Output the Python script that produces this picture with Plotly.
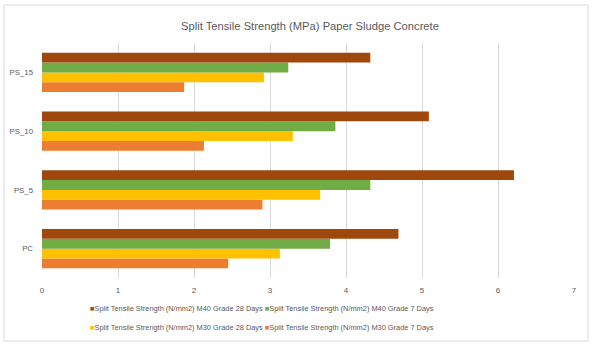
import plotly.graph_objects as go

categories = ["PC", "PS_5", "PS_10", "PS_15"]
m30_7 = [2.45, 2.90, 2.13, 1.87]
m30_28 = [3.13, 3.66, 3.30, 2.92]
m40_7 = [3.79, 4.32, 3.86, 3.24]
m40_28 = [4.69, 6.21, 5.09, 4.32]

series = [
    ("Split Tensile Strength (N/mm2) M30 Grade 7 Days", m30_7, "#ED7D31"),
    ("Split Tensile Strength (N/mm2) M30 Grade 28 Days", m30_28, "#FFC000"),
    ("Split Tensile Strength (N/mm2) M40 Grade 7 Days", m40_7, "#70AD47"),
    ("Split Tensile Strength (N/mm2) M40 Grade 28 Days", m40_28, "#9E480E"),
]

fig = go.Figure()
for name, vals, color in series:
    fig.add_trace(go.Bar(y=categories, x=vals, name=name, orientation="h",
                         showlegend=False,
                         marker=dict(color=color, line=dict(width=0))))

W, H = 596, 351
ml, mr, mt, mb = 42, 22, 43, 73
pw, ph = W - ml - mr, H - mt - mb

def px(x):
    return (x - ml) / pw

def py(y):
    return (H - mb - y) / ph

FONT = "Liberation Sans, sans-serif"

def item(name, color):
    return f"<span style='color:{color}'>■</span>{name}"

legend_rows = [[series[3], series[2]], [series[1], series[0]]]
annotations = []
for i, row in enumerate(legend_rows):
    txt = " ".join(item(n, c) for n, _, c in row)
    annotations.append(dict(text=txt, xref="paper", yref="paper",
                            x=px(88), xanchor="left", y=py(308 + 19 * i),
                            yanchor="middle", showarrow=False,
                            font=dict(size=7.4, color="#595959", family=FONT)))

fig.update_layout(
    width=W, height=H,
    margin=dict(l=ml, r=mr, t=mt, b=mb),
    paper_bgcolor="white", plot_bgcolor="white",
    barmode="group", bargap=0.336, bargroupgap=0,
    font=dict(family=FONT, color="#595959", size=8),
    title=dict(text="Split Tensile Strength (MPa) Paper Sludge Concrete",
               x=px(310), xanchor="center", xref="paper",
               y=1 - 26 / H, yanchor="middle",
               font=dict(size=11.2, color="#595959", family=FONT)),
    xaxis=dict(range=[0, 7], dtick=1, showgrid=True, gridcolor="#D9D9D9",
               gridwidth=1, zeroline=False, showline=False, automargin=False,
               ticks="", ticklabelstandoff=6,
               tickfont=dict(size=8, color="#595959")),
    yaxis=dict(showgrid=False, zeroline=False, showline=False, ticks="",
               automargin=False, ticklabelstandoff=8,
               tickfont=dict(size=7.8, color="#595959")),
    annotations=annotations,
    shapes=[dict(type="rect", xref="paper", yref="paper",
                 x0=px(4), x1=px(588), y0=py(341), y1=py(5),
                 line=dict(color="#D9D9D9", width=1), layer="below")],
)

fig.write_html("out.html")
